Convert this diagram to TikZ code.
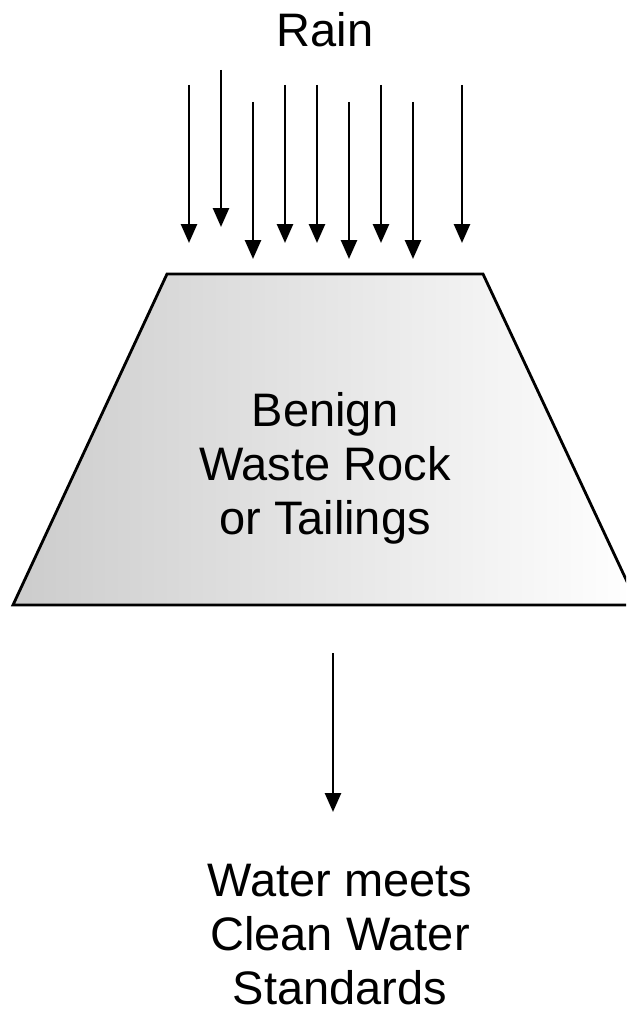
\documentclass[tikz,border=0pt]{standalone}
\usepackage{fontspec}
\setmainfont{Liberation Sans}
\usetikzlibrary{arrows.meta}
\tikzset{
  label text/.style={font=\fontsize{47}{54}\selectfont, align=center, inner sep=0pt},
  drop/.style={line width=2.6pt, -{Triangle[length=19pt,width=16pt]}},
  heap/.style={draw, line width=2.8pt, line join=miter,
    left color=black!20, middle color=black!9, right color=white}
}
\begin{document}
\begin{tikzpicture}[x=1pt, y=-1pt]
  \useasboundingbox (0,0) rectangle (626,1019);
  \clip (0,0) rectangle (626,1019);

  % title
  \node[label text, anchor=base] (rain) at (325,47) {Rain};

  % rain drops falling onto the heap
  \foreach \i/\x/\t/\b in {1/189/85/243, 2/221/70/227, 3/253/102/259,
                           4/285/85/243, 5/317/85/243, 6/349/102/259,
                           7/381/85/243, 8/413/102/259, 9/462/85/243} {
    \coordinate (d\i s) at (\x,\t);
    \coordinate (d\i e) at (\x,\b);
    \draw[drop] (d\i s) -- (d\i e);
  }

  % waste rock heap
  \coordinate (tl) at (167,274);
  \coordinate (tr) at (483,274);
  \coordinate (br) at (638,605);
  \coordinate (bl) at (13,605);
  \path[heap] (tl) -- (tr) -- (br) -- (bl) -- cycle;
  % multi-line nodes: the base anchor sits on the last line
  \node[label text, anchor=base] (heap) at (325,534) {Benign\\Waste Rock\\or Tailings};

  % seepage leaving the heap
  \coordinate (outs) at (333,653);
  \coordinate (oute) at (333,812);
  \draw[drop] (outs) -- (oute);

  \node[label text, anchor=base] (water) at (340,1004) {Water meets\\Clean Water\\Standards};
\end{tikzpicture}
\end{document}
